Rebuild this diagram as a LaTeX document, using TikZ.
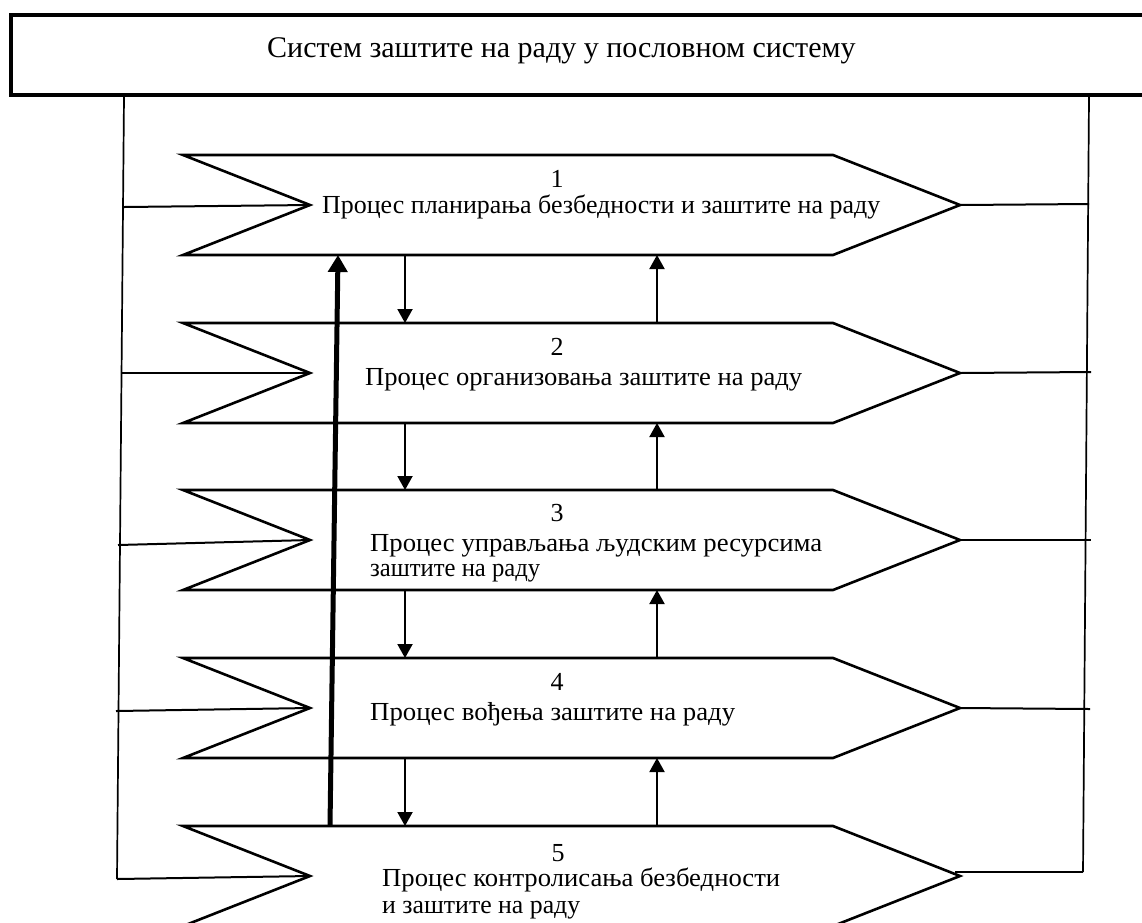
\documentclass[tikz,border=0pt]{standalone}
\usepackage{fontspec}
\setmainfont{Liberation Serif}
\usetikzlibrary{arrows.meta}
\newcommand{\fitw}[2]{\resizebox{#1}{\height}{#2}}
\begin{document}
\begin{tikzpicture}[x=1pt,y=-1pt,
  sysbox/.style={draw, line width=4.2pt, inner sep=0pt, minimum width=1149pt, minimum height=80pt},
  chev/.style={draw, line width=2.6pt, line join=miter, fill=white},
  rail/.style={line width=1.7pt},
  wire/.style={line width=2pt},
  flow/.style={line width=2pt, -{Triangle[length=14pt,width=15pt]}},
  back/.style={line width=5pt, -{Triangle[length=17pt,width=19pt]}},
  lbl/.style={inner sep=0pt, anchor=base west, font=\fontsize{26}{26}\selectfont},
  num/.style={inner sep=0pt, anchor=base, font=\fontsize{26}{26}\selectfont},
  ttl/.style={inner sep=0pt, anchor=base west, font=\fontsize{30}{30}\selectfont},
]
\useasboundingbox (0,0) rectangle (1142,922);
\fill[white] (0,0) rectangle (1142,922);

% system box
\node[sysbox] (sys) at (585.5,55) {};
\node[ttl] (title) at (267,57) {Систем заштите на раду у пословном систему};

% side rails
\coordinate (Ltop) at (124,97);
\coordinate (Lbot) at (117,879);
\coordinate (Rtop) at (1089,97);
\coordinate (Rbot) at (1083,872);
\draw[rail] (Ltop) -- (Lbot);
\draw[rail] (Rtop) -- (Rbot);

% chevrons
\foreach \i/\t in {1/155,2/323,3/490,4/658,5/826}{
  \draw[chev] (183,\t) -- (833,\t) -- (960,\t+50) -- (833,\t+100) -- (183,\t+100) -- (310,\t+50) -- cycle;
  \coordinate (n\i) at (310,\t+50);
  \coordinate (p\i) at (960,\t+50);
  \coordinate (dtop\i) at (405,\t);
  \coordinate (dbot\i) at (405,\t+100);
  \coordinate (utop\i) at (657,\t);
  \coordinate (ubot\i) at (657,\t+100);
}

% inputs from left rail
\coordinate (li1) at (124,207);
\coordinate (li2) at (121,373);
\coordinate (li3) at (118,545);
\coordinate (li4) at (116,711);
\draw[wire] (li1) -- (n1);
\draw[wire] (li2) -- (n2);
\draw[wire] (li3) -- (n3);
\draw[wire] (li4) -- (n4);
\draw[wire] (Lbot) -- (n5);

% outputs to right rail
\coordinate (ro1) at (1089,204);
\coordinate (ro2) at (1091,372);
\coordinate (ro3) at (1091,540);
\coordinate (ro4) at (1090,709);
\coordinate (ro5s) at (955,872);
\draw[wire] (p1) -- (ro1);
\draw[wire] (p2) -- (ro2);
\draw[wire] (p3) -- (ro3);
\draw[wire] (p4) -- (ro4);
\draw[wire] (ro5s) -- (Rbot);

% arrows between chevrons
\foreach \a/\b in {1/2,2/3,3/4,4/5}{
  \draw[flow] (dbot\a) -- (dtop\b);
  \draw[flow] (utop\b) -- (ubot\a);
}
% feedback arrow
\coordinate (fb0) at (330,826);
\coordinate (fb1) at (338,255);
\draw[back] (fb0) -- (fb1);

% labels
\node[num] (k1) at (557,187) {1};
\node[lbl] (t1) at (322,213) {\fitw{558pt}{Процес планирања безбедности и заштите на раду}};
\node[num] (k2) at (557,355) {2};
\node[lbl] (t2) at (365,385) {\fitw{437pt}{Процес организовања заштите на раду}};
\node[num] (k3) at (557,521) {3};
\node[lbl] (t3a) at (370,551) {\fitw{452pt}{Процес управљања људским ресурсима}};
\node[lbl] (t3b) at (370,576) {\fitw{170pt}{заштите на раду}};
\node[num] (k4) at (557,690) {4};
\node[lbl] (t4) at (370,720) {\fitw{365pt}{Процес вођења заштите на раду}};
\node[num] (k5) at (558,861) {5};
\node[lbl] (t5a) at (382,886) {\fitw{398pt}{Процес контролисања безбедности}};
\node[lbl] (t5b) at (382,913) {\fitw{198pt}{и заштите на раду}};
\end{tikzpicture}
\end{document}
